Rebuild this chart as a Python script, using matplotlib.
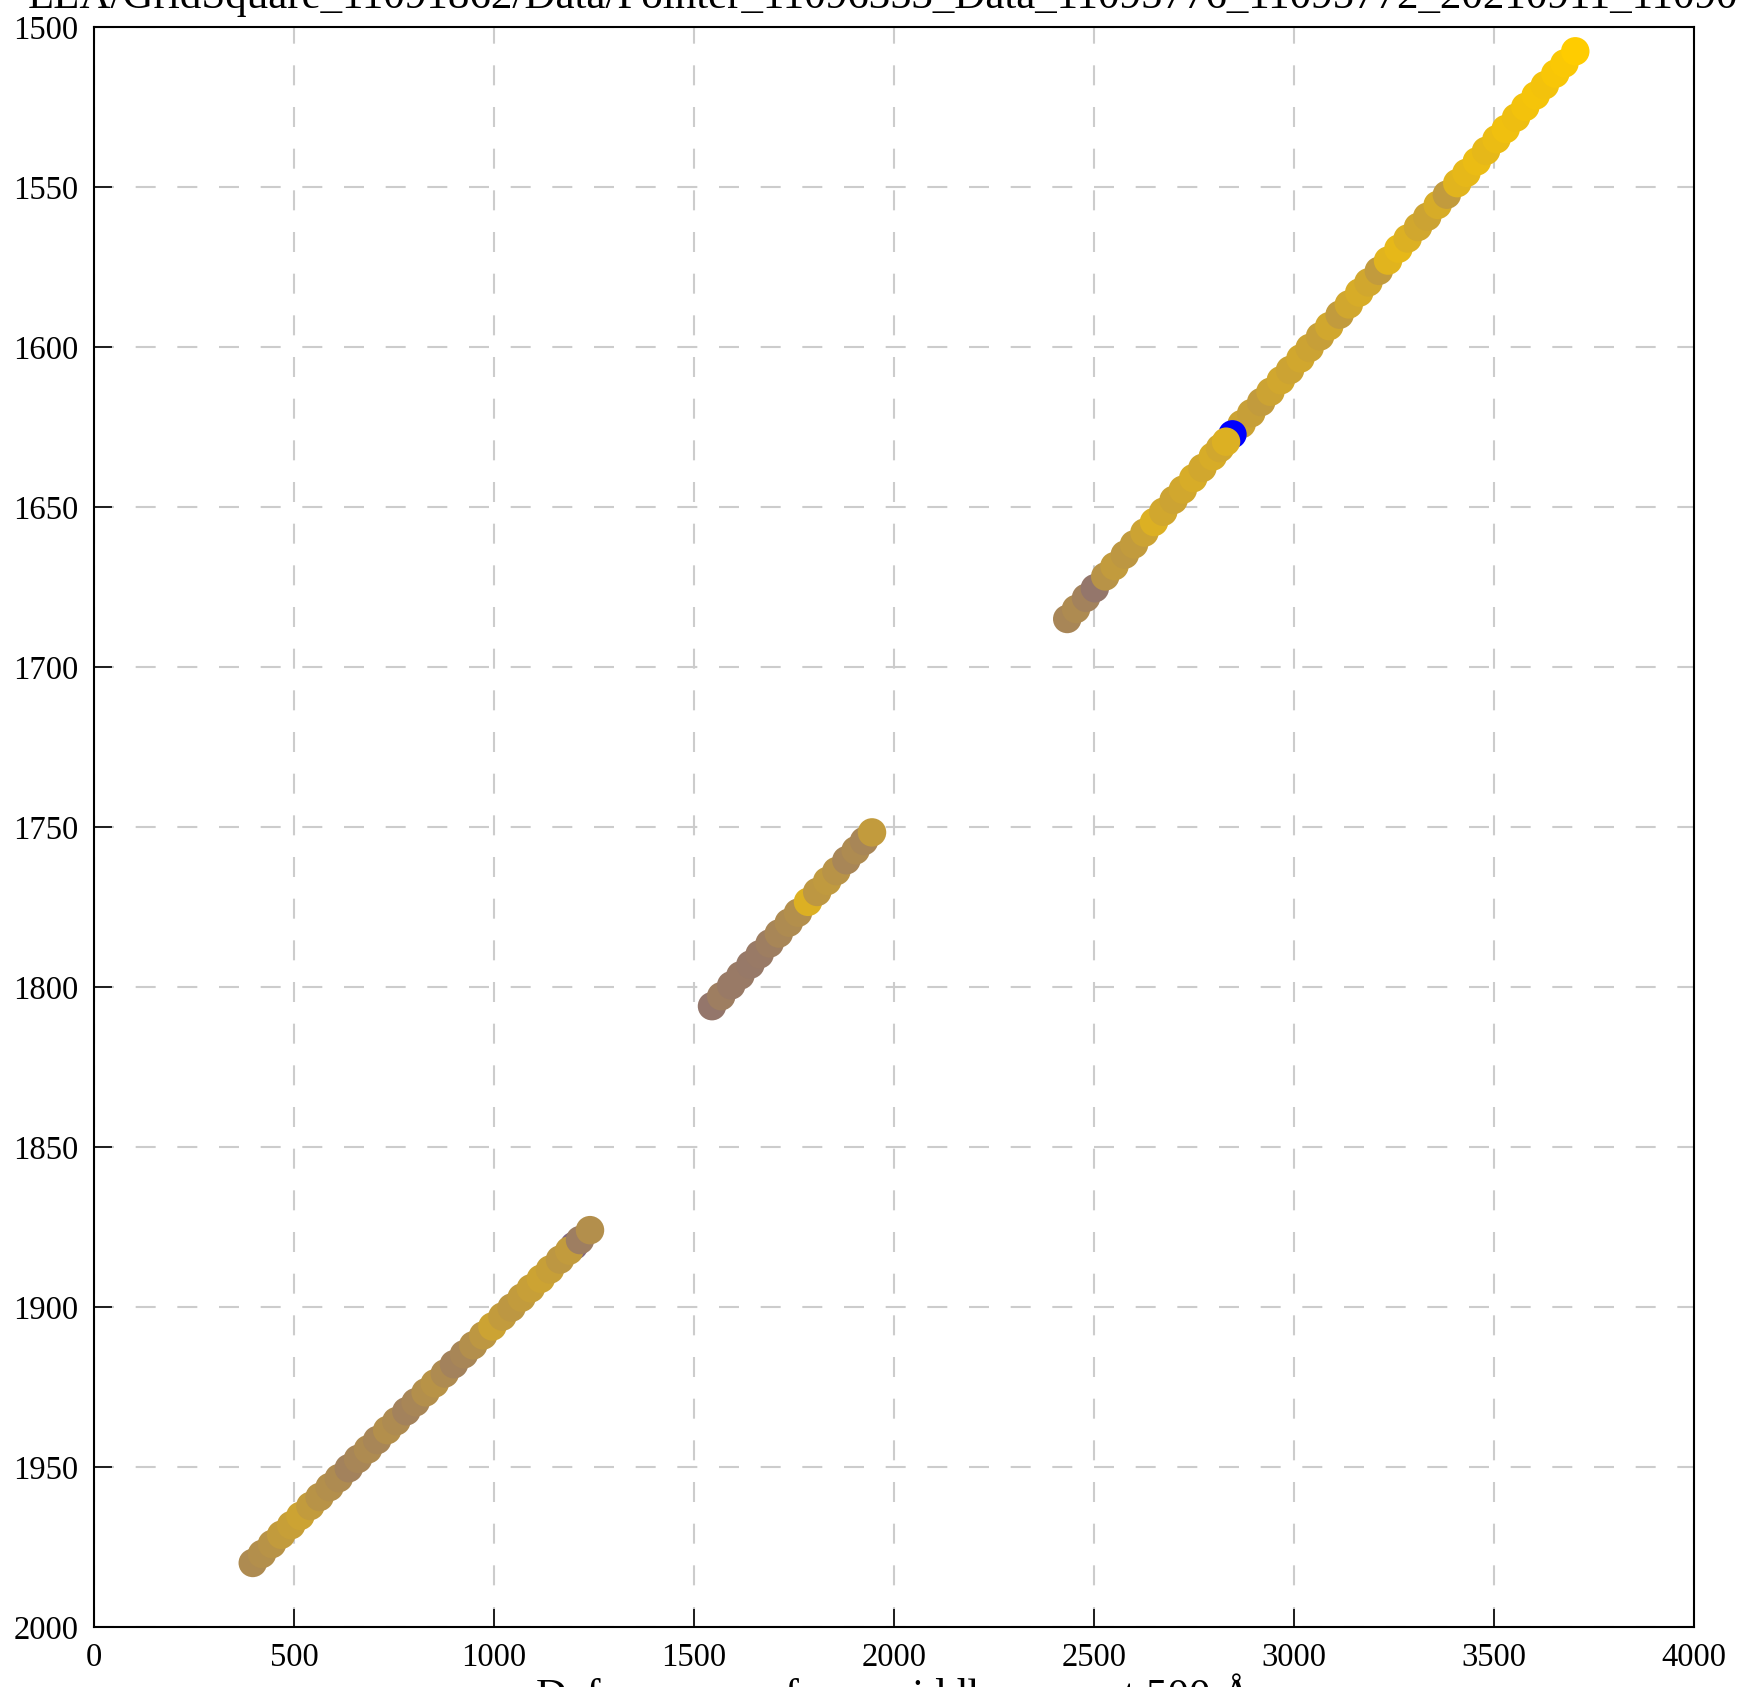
import matplotlib
matplotlib.use('Agg')
import matplotlib.pyplot as plt
from matplotlib.colors import LinearSegmentedColormap

plt.rcParams['font.family'] = ['Liberation Serif', 'DejaVu Serif']

# segment near the bottom left
x1 = [397, 420, 445, 468, 493, 516, 541, 564, 589, 612, 637, 660, 685, 708, 733, 756,
      781, 804, 829, 852, 877, 900, 925, 948, 973, 996, 1021, 1044, 1069, 1092, 1117,
      1140, 1165, 1200, 1188, 1215, 1240]
y1 = [1980.0, 1977.2, 1974.1, 1971.2, 1968.2, 1965.3, 1962.2, 1959.4, 1956.3, 1953.5,
      1950.4, 1947.5, 1944.5, 1941.6, 1938.5, 1935.7, 1932.6, 1929.8, 1926.7, 1923.9,
      1920.8, 1917.9, 1914.8, 1912.0, 1908.9, 1906.1, 1903.0, 1900.2, 1897.1, 1894.2,
      1891.2, 1888.3, 1885.2, 1880.9, 1882.4, 1879.1, 1876.0]
c1 = [0.68, 0.70, 0.72, 0.76, 0.78, 0.80, 0.76, 0.72, 0.70, 0.68, 0.64, 0.66, 0.68,
      0.66, 0.70, 0.68, 0.64, 0.66, 0.70, 0.72, 0.68, 0.64, 0.66, 0.70, 0.74, 0.80,
      0.76, 0.74, 0.76, 0.78, 0.80, 0.78, 0.74, 0.50, 0.76, 0.62, 0.70]

# middle segment
x2 = [1545, 1568, 1593, 1616, 1641, 1664, 1689, 1712, 1737, 1760, 1785, 1808, 1833,
      1856, 1881, 1904, 1925, 1945]
y2 = [1806.0, 1802.9, 1799.5, 1796.4, 1793.0, 1789.8, 1786.4, 1783.3, 1779.9, 1776.8,
      1773.4, 1770.3, 1766.9, 1763.8, 1760.4, 1757.3, 1754.4, 1751.7]
c2 = [0.58, 0.62, 0.60, 0.60, 0.59, 0.60, 0.62, 0.66, 0.68, 0.70, 0.86, 0.74, 0.75,
      0.72, 0.66, 0.68, 0.66, 0.76]

# upper right segment (blue point and the gold one above it come last)
x3 = [2433, 2455, 2480, 2502, 2528, 2551, 2577, 2600, 2626, 2650, 2673, 2699, 2722,
      2748, 2771, 2797, 2815, 2869, 2893, 2918, 2941, 2967, 2990, 3016,
      3039, 3065, 3088, 3114, 3137, 3163, 3186, 3212, 3235, 3261, 3284, 3310, 3333,
      3359, 3382, 3408, 3431, 3457, 3480, 3506, 3529, 3555, 3578, 3604, 3627, 3653,
      3676, 3703, 2846, 2830]
y3 = [1685.0, 1681.9, 1678.4, 1675.4, 1671.7, 1668.5, 1664.9, 1661.7, 1658.0, 1654.7,
      1651.5, 1647.8, 1644.6, 1641.0, 1637.8, 1634.2, 1631.6, 1624.1,
      1620.7, 1617.2, 1614.0, 1610.4, 1607.2, 1603.6, 1600.3, 1596.7, 1593.5, 1589.9,
      1586.7, 1583.0, 1579.8, 1576.2, 1573.0, 1569.3, 1566.1, 1562.5, 1559.3, 1555.6,
      1552.4, 1548.8, 1545.6, 1542.0, 1538.7, 1535.1, 1531.9, 1528.3, 1525.0, 1521.4,
      1518.2, 1514.6, 1511.4, 1507.6, 1627.3, 1629.6]
c3 = [0.66, 0.68, 0.64, 0.58, 0.72, 0.76, 0.74, 0.76, 0.80, 0.86, 0.82, 0.80, 0.82,
      0.84, 0.82, 0.84, 0.82, 0.80, 0.78, 0.76, 0.80, 0.82, 0.80, 0.82,
      0.80, 0.78, 0.82, 0.76, 0.82, 0.84, 0.82, 0.76, 0.88, 0.90, 0.86, 0.82, 0.80,
      0.84, 0.76, 0.88, 0.90, 0.92, 0.90, 0.92, 0.94, 0.93, 0.95, 0.96, 0.95, 0.97,
      0.98, 1.00, 0.00, 0.86]

title_text = 'LLA/GridSquare_11091862/Data/Pointer_11096353_Data_11095776_11095772_20210911_110907'
xlabel_text = 'Defocus error from middle, zero at 500 Å'

cmap = LinearSegmentedColormap.from_list('bluegold', ['#0000ff', '#ffcc00'])

fig = plt.figure(figsize=(17.4, 16.87), dpi=100)
ax = fig.add_axes([0.054, 0.0356, 0.9196, 0.9484])

for xs, ys, cs in [(x1, y1, c1), (x2, y2, c2), (x3, y3, c3)]:
    ax.scatter(xs, ys, c=cs, cmap=cmap, vmin=0, vmax=1, s=420, linewidths=0, zorder=3)

ax.set_xlim(0, 4000)
ax.set_ylim(2000, 1500)
ax.set_xticks(range(0, 4001, 500))
ax.set_yticks(range(1500, 2001, 50))
ax.grid(True, color='#cccccc', linewidth=1.5, linestyle=(0, (9.6, 10.4)))
ax.set_axisbelow(True)
ax.tick_params(direction='in', length=13, width=1.2, labelsize=23.5, pad=11,
               top=False, right=False)
for s in ax.spines.values():
    s.set_linewidth(1.5)

ax.set_title(title_text, fontsize=31, pad=14)
ax.set_xlabel(xlabel_text, fontsize=31, labelpad=2)

fig.savefig('out.png', dpi=100)
